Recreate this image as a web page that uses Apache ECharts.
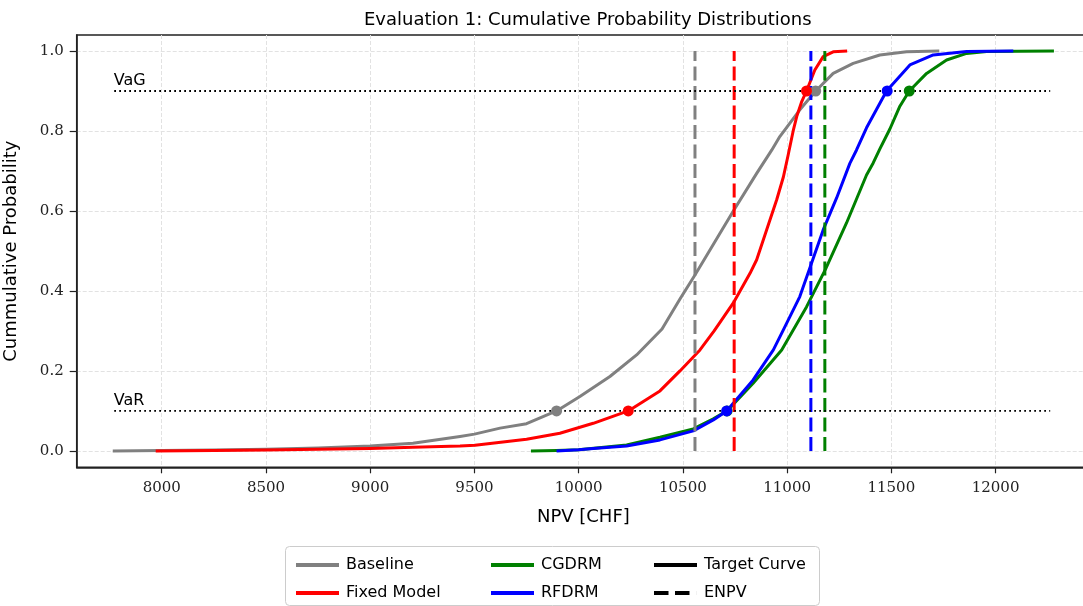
<!DOCTYPE html>
<html><head><meta charset="utf-8">
<script src="https://cdn.jsdelivr.net/npm/echarts@6/dist/echarts.min.js"></script>
<style>html,body{margin:0;padding:0;background:#fff}#c{width:1083px;height:606px}</style>
</head><body><div id="c"></div><script>
// ---- data ----
const seriesNames = ['Baseline', 'Fixed Model', 'CGDRM', 'RFDRM'];
const baselineCurve = [[7765,0],[8000,0.001],[8250,0.002],[8500,0.004],[8750,0.007],[9000,0.012],[9205,0.019],[9431,0.036],[9500,0.042],[9623,0.057],[9750,0.068],[9894,0.1],[10006,0.136],[10150,0.186],[10278,0.24],[10400,0.305],[10486,0.38],[10558,0.44],[10650,0.52],[10742,0.60],[10854,0.694],[10926,0.752],[10965,0.786],[11061,0.853],[11137,0.9],[11221,0.944],[11317,0.969],[11445,0.99],[11573,0.998],[11730,1.0]];
const fixedModelCurve = [[7971,0],[8250,0.001],[8500,0.002],[8750,0.004],[9000,0.006],[9205,0.009],[9431,0.012],[9503,0.014],[9750,0.029],[9910,0.044],[10070,0.069],[10238,0.1],[10390,0.15],[10486,0.2],[10582,0.2525],[10650,0.30],[10742,0.37],[10822,0.444],[10854,0.478],[10902,0.553],[10950,0.628],[10982,0.685],[11005,0.74],[11029,0.80],[11046,0.836],[11069,0.872],[11093,0.9],[11133,0.9525],[11173,0.986],[11221,0.998],[11288,1.0]];
const cgdrmCurve = [[9771,0],[9894,0.001],[10000,0.003],[10230,0.015],[10390,0.034],[10550,0.055],[10646,0.08],[10712,0.1],[10837,0.169],[10974,0.2525],[11093,0.36],[11185,0.455],[11285,0.57],[11333,0.63],[11381,0.69],[11413,0.72],[11445,0.755],[11493,0.805],[11541,0.862],[11586,0.9],[11669,0.944],[11765,0.9775],[11861,0.994],[11957,0.999],[12280,1.0]];
const rfdrmCurve = [[9894,0],[10000,0.003],[10070,0.006],[10230,0.0125],[10390,0.0275],[10550,0.05],[10646,0.0775],[10710,0.1],[10837,0.1775],[10934,0.2525],[10982,0.3025],[11061,0.386],[11117,0.469],[11173,0.5525],[11237,0.632],[11301,0.719],[11333,0.7525],[11381,0.808],[11477,0.9],[11589,0.965],[11701,0.99],[11861,0.999],[12085,1.0]];
const enpvValues = [10558, 10746, 11181, 11114];
const varValues = [9894, 10238, 10712, 10710];
const vagValues = [11137, 11093, 11586, 11480];
const varLevel = 0.1, vagLevel = 0.9;
const refLineRange = [7772, 12262];
const refLineLabels = ['VaR', 'VaG'];
const xTickValues = [8000, 8500, 9000, 9500, 10000, 10500, 11000, 11500, 12000];
const yTickValues = [0, 0.2, 0.4, 0.6, 0.8, 1.0];
const legendColumns = [['Baseline', 'Fixed Model'], ['CGDRM', 'RFDRM'], ['Target Curve', 'ENPV']];

// ---- styling ----
const colors = ['#808080', '#ff0000', '#008000', '#0000ff'];
const curves = [baselineCurve, fixedModelCurve, cgdrmCurve, rfdrmCurve];
const DASH = [14, 5.5];
const SOLID_ICON = 'path://M0,0h43v4h-43z';
const DASH_ICON = 'path://M0,0h14.5v4h-14.5zM21,0h14.5v4h-14.5zM42.95,0h0.05v4h-0.05z';
const series = [];
curves.forEach((d, i) => series.push({
  type: 'line', name: seriesNames[i], data: d, symbol: 'none', z: 3,
  lineStyle: {width: 3, color: colors[i], join: 'round', cap: 'butt'}, itemStyle: {color: colors[i]}
}));
series.push({type: 'line', name: 'Target Curve', data: [], symbol: 'none',
  lineStyle: {width: 3, color: '#000'}, itemStyle: {color: '#000'}});
series.push({type: 'line', name: 'ENPV', data: [], symbol: 'none',
  lineStyle: {width: 3, color: '#000', type: DASH}, itemStyle: {color: '#000'}});
enpvValues.forEach((v, i) => series.push({
  type: 'line', name: seriesNames[i] + ' ENPV', data: [[v, 0], [v, 1]], symbol: 'none', z: 4,
  lineStyle: {width: 3, color: colors[i], type: DASH}, itemStyle: {color: colors[i]}
}));
[varLevel, vagLevel].forEach((lv) => {
  series.push({type: 'line', data: [[refLineRange[0], lv], [refLineRange[1], lv]], symbol: 'none', z: 5,
    lineStyle: {width: 1.8, color: '#000', type: [1.8, 3.2]}});
});
series.push({
  type: 'scatter', z: 7, symbolSize: 1, itemStyle: {color: 'rgba(0,0,0,0)'},
  data: [[refLineRange[0], varLevel, refLineLabels[0]], [refLineRange[0], vagLevel, refLineLabels[1]]],
  label: {show: true, formatter: p => p.data[2], position: [0, -18], align: 'left', verticalAlign: 'top',
    fontFamily: 'DejaVu Sans', fontSize: 16, color: '#000', opacity: 1}
});
curves.forEach((d, i) => series.push({
  type: 'scatter', name: seriesNames[i] + ' marks', z: 6, symbolSize: 11,
  data: [[varValues[i], varLevel], [vagValues[i], vagLevel]],
  itemStyle: {color: colors[i], opacity: 1}
}));

const axisColor = '#222';
const legendBase = {
  orient: 'vertical', top: 552, itemWidth: 43, itemHeight: 14, itemGap: 12,
  selectedMode: false,
  textStyle: {fontFamily: 'DejaVu Sans', fontSize: 16, color: '#000', padding: [0, 0, 0, 2]}
};
const legendLefts = [291, 486, 649];

const chart = echarts.init(document.getElementById('c'), null, {renderer: 'canvas'});
chart.setOption({
  animation: false,
  backgroundColor: '#fff',
  title: {text: 'Evaluation 1: Cumulative Probability Distributions', left: 359, top: 6,
    textStyle: {fontFamily: 'DejaVu Sans', fontSize: 18, fontWeight: 'normal', color: '#000'}},
  grid: {left: 76.7, right: -7, top: 35, bottom: 138.7, show: true, borderColor: axisColor, borderWidth: 1.5,
    containLabel: false, outerBoundsMode: 'none'},
  xAxis: {
    type: 'value', min: 7592, max: 12453,
    axisLine: {show: true, onZero: false, lineStyle: {color: axisColor, width: 1.5}},
    axisTick: {show: true, length: 6, customValues: xTickValues, lineStyle: {color: axisColor, width: 1.2}},
    axisLabel: {customValues: xTickValues, formatter: v => String(v), fontFamily: 'DejaVu Serif', fontSize: 15, color: '#222', margin: 13},
    splitLine: {show: true, lineStyle: {type: [4, 2], color: '#e2e2e2', width: 1}},
    name: 'NPV [CHF]', nameLocation: 'middle', nameGap: 41,
    nameTextStyle: {fontFamily: 'DejaVu Sans', fontSize: 18, color: '#000'}
  },
  yAxis: {
    type: 'value', min: -0.041, max: 1.04,
    axisLine: {show: true, onZero: false, lineStyle: {color: axisColor, width: 1.5}},
    axisTick: {show: true, length: 7, customValues: yTickValues, lineStyle: {color: axisColor, width: 1.2}},
    axisLabel: {customValues: yTickValues, formatter: v => v.toFixed(1), fontFamily: 'DejaVu Serif', fontSize: 15, color: '#222', margin: 13},
    splitLine: {show: true, lineStyle: {type: [4, 2], color: '#e2e2e2', width: 1}},
    name: 'Cummulative Probability', nameLocation: 'middle', nameGap: 56, nameRotate: 90,
    nameTextStyle: {fontFamily: 'DejaVu Sans', fontSize: 18, color: '#000'}
  },
  legend: legendColumns.map((cols, i) => Object.assign({}, legendBase, {
    left: legendLefts[i],
    data: cols.map(n => ({name: n, icon: n === 'ENPV' ? DASH_ICON : SOLID_ICON}))
  })),
  graphic: [{type: 'rect', left: 285, top: 546, z: 0,
    shape: {width: 534, height: 59, r: 4}, style: {fill: '#fff', stroke: '#cccccc', lineWidth: 1}}],
  series: series
});
</script></body></html>
